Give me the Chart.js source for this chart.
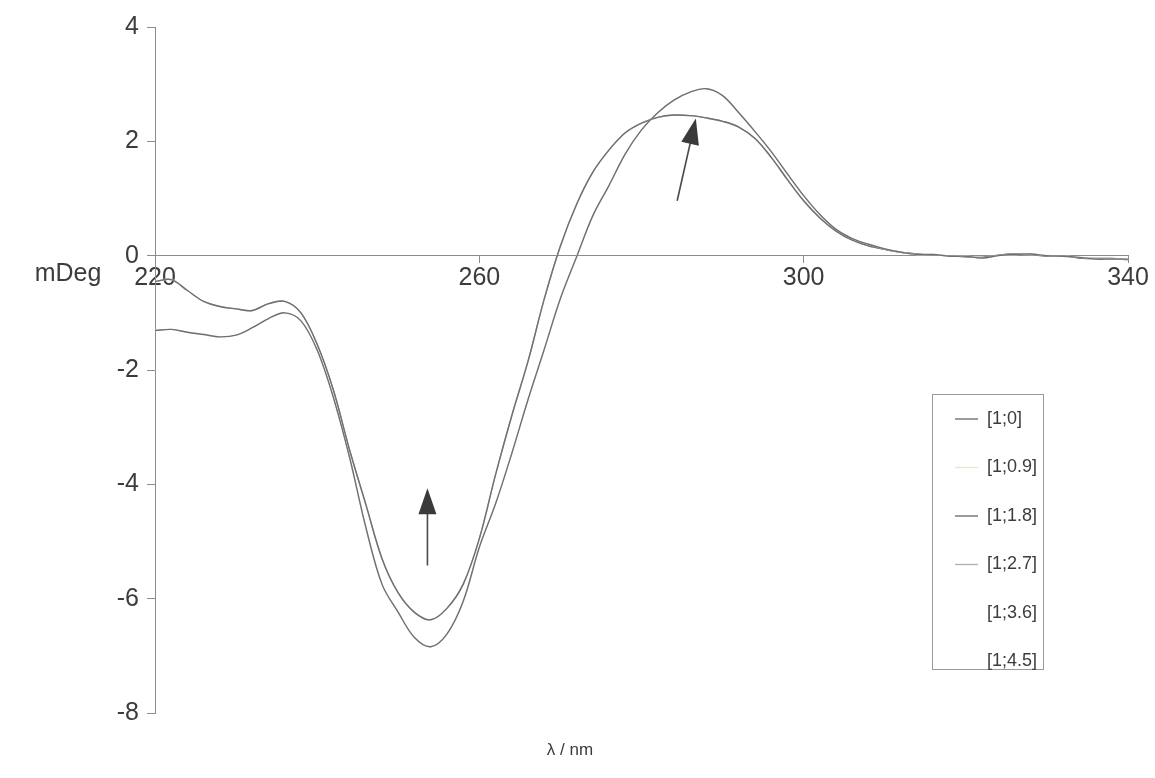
<!DOCTYPE html>
<html>
<head>
<meta charset="utf-8">
<script src="https://cdn.jsdelivr.net/npm/chart.js@4.4.0/dist/chart.umd.min.js"></script>
<style>
  html, body { margin: 0; padding: 0; background: #fff; }
  #wrap { width: 1155px; height: 778px; position: relative; }
</style>
</head>
<body>
<div id="wrap"><canvas id="cd-chart" width="1155" height="778"></canvas></div>
<script>
// wavelengths (nm)
let wavelengths = [220, 222, 224, 226, 228, 230, 232, 234, 236, 238,
    240, 242, 244, 246, 248, 250, 252, 254, 256, 258,
    260, 262, 264, 266, 268, 270, 272, 274, 276, 278,
    280, 282, 284, 286, 288, 290, 292, 294, 296, 298,
    300, 302, 304, 306, 308, 310, 312, 314, 316, 318,
    320, 322, 324, 326, 328, 330, 332, 334, 336, 338, 340];

// CD signal (mDeg), deeper trough / higher peak
let cd_1_0 = [-1.31, -1.29, -1.34, -1.38, -1.42, -1.39, -1.26, -1.10, -1.00, -1.14,
    -1.65, -2.48, -3.53, -4.75, -5.75, -6.24, -6.68, -6.84, -6.62, -6.05,
    -5.10, -4.34, -3.46, -2.52, -1.64, -0.75, -0.02, 0.70, 1.23, 1.78,
    2.20, 2.50, 2.72, 2.86, 2.92, 2.80, 2.50, 2.17, 1.82, 1.43,
    1.05, 0.72, 0.46, 0.30, 0.20, 0.12, 0.06, 0.02, 0.02, -0.01,
    -0.01, -0.04, 0.00, 0.02, 0.03, 0.00, -0.01, -0.03, -0.06, -0.06, -0.06];

// CD signal (mDeg), shallower trough / flat peak
let cd_1_18 = [-0.45, -0.42, -0.61, -0.80, -0.89, -0.93, -0.96, -0.84, -0.80, -1.00,
    -1.55, -2.35, -3.40, -4.35, -5.30, -5.90, -6.24, -6.37, -6.17, -5.75,
    -4.95, -3.83, -2.80, -1.85, -0.76, 0.17, 0.90, 1.46, 1.85, 2.15,
    2.32, 2.42, 2.46, 2.45, 2.41, 2.35, 2.25, 2.05, 1.72, 1.33,
    0.96, 0.66, 0.43, 0.27, 0.17, 0.11, 0.06, 0.03, 0.01, 0.00,
    -0.02, -0.03, 0.01, 0.03, 0.02, -0.01, 0.00, -0.04, -0.05, -0.05, -0.07];

let seriesNames = ['[1;0]', '[1;0.9]', '[1;1.8]', '[1;2.7]', '[1;3.6]', '[1;4.5]'];
let seriesValues = [cd_1_0, cd_1_0, cd_1_18, cd_1_18, cd_1_18, cd_1_0];
let seriesColors = ['#707070', '#e4ead0', '#707070', '#b4b4b4', '#ffffff', '#ffffff'];

let yTicks = [4, 2, 0, -2, -4, -6, -8];
let xTicks = [220, 260, 300, 340];

let textColor = '#3c3c3c';
let axisColor = '#8c8c8c';
let fontFamily = "'Liberation Sans', Arial, sans-serif";

let datasets = seriesNames.map(function (name, i) {
    return {
        label: name,
        data: wavelengths.map(function (w, j) { return { x: w, y: seriesValues[i][j] }; }),
        borderColor: seriesColors[i],
        borderWidth: 1.4,
        pointRadius: 0,
        tension: 0.35,
        fill: false
    };
});

// arrows, titles and the boxed legend
let extras = {
    id: 'extras',
    afterDatasetsDraw: function (chart) {
        let c = chart.ctx;
        let xs = chart.scales.x, ys = chart.scales.y;

        function arrow(x1, y1, x2, y2) {
            let ax = xs.getPixelForValue(x1), ay = ys.getPixelForValue(y1);
            let bx = xs.getPixelForValue(x2), by = ys.getPixelForValue(y2);
            let ang = Math.atan2(by - ay, bx - ax);
            let len = 26, half = 9;
            c.save();
            c.strokeStyle = '#4a4a4a';
            c.fillStyle = '#3a3a3a';
            c.lineWidth = 1.6;
            c.beginPath();
            c.moveTo(ax, ay);
            c.lineTo(bx - Math.cos(ang) * len * 0.8, by - Math.sin(ang) * len * 0.8);
            c.stroke();
            c.beginPath();
            c.moveTo(bx, by);
            c.lineTo(bx - Math.cos(ang) * len - Math.sin(ang) * half, by - Math.sin(ang) * len + Math.cos(ang) * half);
            c.lineTo(bx - Math.cos(ang) * len + Math.sin(ang) * half, by - Math.sin(ang) * len - Math.cos(ang) * half);
            c.closePath();
            c.fill();
            c.restore();
        }
        arrow(253.6, -5.42, 253.6, -4.07);
        arrow(284.4, 0.96, 286.7, 2.40);

        c.save();
        c.font = '25px ' + fontFamily;
        c.fillStyle = textColor;
        c.textBaseline = 'middle';
        c.textAlign = 'center';
        c.fillText('mDeg', 68, ys.getPixelForValue(0) + 18);
        c.font = '17px ' + fontFamily;
        c.fillText('\u03bb / nm', 570, 750);

        // legend box
        let lx = 932, ly = 394, lw = 111, lh = 275, row = 48.5;
        c.fillStyle = '#ffffff';
        c.fillRect(lx, ly, lw, lh);
        c.strokeStyle = '#9a9a9a';
        c.lineWidth = 1;
        c.strokeRect(lx + 0.5, ly + 0.5, lw, lh);
        c.font = '18px ' + fontFamily;
        c.textAlign = 'left';
        chart.data.datasets.forEach(function (ds, i) {
            let y = ly + 25 + i * row;
            c.strokeStyle = ds.borderColor;
            c.lineWidth = 1.4;
            c.beginPath();
            c.moveTo(lx + 23, y);
            c.lineTo(lx + 46, y);
            c.stroke();
            c.fillStyle = textColor;
            c.fillText(ds.label, lx + 55, y);
        });
        c.restore();
    }
};

let ctx = document.getElementById('cd-chart').getContext('2d');

let cdChart = new Chart(ctx, {
    type: 'line',
    data: { datasets: datasets },
    options: {
        responsive: false,
        animation: false,
        layout: { padding: { left: 0, right: 27, top: 27, bottom: 65 } },
        scales: {
            x: {
                type: 'linear',
                min: 220,
                max: 340,
                position: { y: 0 },
                afterBuildTicks: function (s) { s.ticks = xTicks.map(function (v) { return { value: v }; }); },
                afterFit: function (s) { s.height = 0; },
                border: { display: true, color: axisColor, width: 1 },
                grid: { display: true, drawOnChartArea: false, tickLength: 7, color: axisColor },
                ticks: { color: textColor, font: { size: 25, family: fontFamily }, padding: 0, maxRotation: 0 }
            },
            y: {
                min: -8,
                max: 4,
                afterBuildTicks: function (s) { s.ticks = yTicks.map(function (v) { return { value: v }; }); },
                afterFit: function (s) { s.width = 155; },
                border: { display: true, color: axisColor, width: 1 },
                grid: { display: true, drawOnChartArea: false, tickLength: 8, color: axisColor },
                ticks: { color: textColor, font: { size: 25, family: fontFamily }, padding: 8 }
            }
        },
        plugins: {
            legend: { display: false },
            tooltip: { enabled: false }
        }
    },
    plugins: [extras]
});
</script>
</body>
</html>
